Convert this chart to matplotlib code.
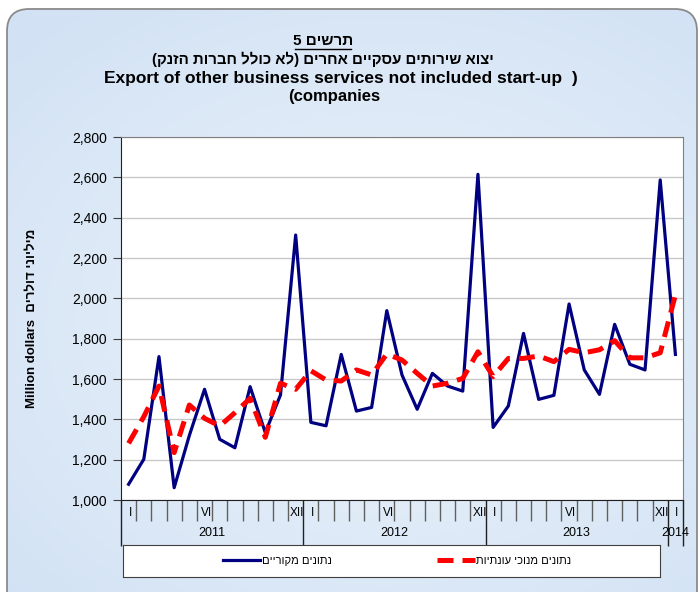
import numpy as np
import matplotlib
matplotlib.use('Agg')
import matplotlib.pyplot as plt
from matplotlib.patches import FancyBboxPatch
from matplotlib.ticker import FuncFormatter, FixedLocator

plt.rcParams['font.family'] = ['Liberation Sans', 'DejaVu Sans']

# monthly values, Jan 2011 - Jan 2014 (million dollars)
original = [1078, 1202, 1711, 1061, 1320, 1549, 1301, 1259, 1562, 1334, 1521, 2314,
            1385, 1368, 1722, 1441, 1459, 1939, 1620, 1450, 1628, 1565, 1540, 2615,
            1360, 1466, 1826, 1499, 1519, 1972, 1645, 1524, 1871, 1673, 1645, 2587,
            1722]
seasonal = [1281, 1413, 1565, 1235, 1471, 1405, 1367, 1433, 1504, 1311, 1579, 1549,
            1641, 1595, 1590, 1645, 1620, 1724, 1694, 1628, 1565, 1579, 1603, 1735,
            1612, 1702, 1702, 1714, 1686, 1747, 1730, 1745, 1790, 1705, 1705, 1730,
            2017]
month_labels = {0: 'I', 5: 'VI', 11: 'XII', 12: 'I', 17: 'VI', 23: 'XII',
                24: 'I', 29: 'VI', 35: 'XII', 36: 'I'}
years = ['2011', '2012', '2013', '2014']
year_starts = [0, 12, 24, 36]

# hebrew strings written in visual (left to right) order
title1 = '5 םישרת'
title2 = '(קנזה תורבח ללוכ אל) םירחא םייקסע םיתוריש אוצי'
title3 = 'Export of other business services not included start-up  )'
title4 = '(companies'
ylabel = 'Million dollars  םירלוד ינוילימ'
lab_orig = 'םיירוקמ םינותנ'
lab_seas = 'תויתנוע יכונמ םינותנ'

W, H = 699, 592
fig = plt.figure(figsize=(W / 100, H / 100), dpi=100)
fig.patch.set_facecolor('white')

# background frame with soft blue gradient
bg = fig.add_axes([0, 0, 1, 1], zorder=-5)
bg.set_xlim(0, W)
bg.set_ylim(0, H)
bg.axis('off')
frame = FancyBboxPatch((7, -40), 690, H - 9 + 40,
                       boxstyle='round,pad=0,rounding_size=22',
                       facecolor='none', edgecolor='#8a8a8a', lw=1.3)
bg.add_patch(frame)
gx, gy = np.meshgrid(np.linspace(0, 1, 200), np.linspace(0, 1, 200))
r = np.sqrt((gx - 0.55) ** 2 + ((gy - 0.55) * 1.1) ** 2)
t = np.clip(r / 0.75, 0, 1)
c1 = np.array([236, 243, 251]) / 255
c2 = np.array([210, 226, 244]) / 255
img = c1[None, None, :] * (1 - t[..., None]) + c2[None, None, :] * t[..., None]
im = bg.imshow(img, extent=(0, W, 0, H), origin='upper', aspect='auto')
im.set_clip_path(frame)

# titles
fig.text(323 / W, 1 - 41 / H, title1, ha='center', va='center', fontsize=11,
         fontweight='bold')
fig.add_artist(plt.Line2D([295 / W, 351 / W], [1 - 49 / H, 1 - 49 / H],
                          color='black', lw=1))
fig.text(323 / W, 1 - 59 / H, title2, ha='center', va='center', fontsize=10.8,
         fontweight='bold')
fig.text(341 / W, 1 - 78 / H, title3, ha='center', va='center', fontsize=12.5,
         fontweight='bold')
fig.text(334 / W, 1 - 97 / H, title4, ha='center', va='center', fontsize=12,
         fontweight='bold')

# main plot
ax = fig.add_axes([121 / W, 1 - 500 / H, 562 / W, 363 / H])
ax.set_facecolor('white')
x = np.arange(len(original))
line1, = ax.plot(x, original, color='#000080', lw=2.3, label=lab_orig, zorder=3)
line2, = ax.plot(x, seasonal, color='#ff0000', lw=3.6, ls=(0, (3.2, 1.8)),
                 label=lab_seas, zorder=4)

ax.set_xlim(-0.5, len(original) - 0.5)
ax.set_ylim(1000, 2800)
ax.set_yticks(np.arange(1000, 2801, 200))
ax.yaxis.set_major_formatter(FuncFormatter(lambda v, p: f'{int(v):,}'))
ax.tick_params(axis='y', labelsize=10, length=6, pad=4, direction='out',
               color='#404040')
ax.grid(axis='y', color='#c8c8c8', lw=1)
ax.set_axisbelow(True)

# x axis: short ticks between months, long ticks between years
ax.xaxis.set_major_locator(FixedLocator([s - 0.5 for s in year_starts] + [36.5]))
ax.xaxis.set_minor_locator(FixedLocator(np.arange(-0.5, 37, 1)))
ax.tick_params(axis='x', which='major', length=33, color='#202020', width=1,
               labelbottom=False)
ax.tick_params(axis='x', which='minor', length=15, color='#606060', width=1)

for i, lab in month_labels.items():
    ax.text(i + 0.1, -0.036, lab, transform=ax.get_xaxis_transform(),
            ha='center', va='center', fontsize=8.5)
year_centers = [5.5, 17.5, 29.5, 36]
for xc, yr in zip(year_centers, years):
    ax.text(xc, -0.091, yr, transform=ax.get_xaxis_transform(),
            ha='center', va='center', fontsize=9)

for s in ['left', 'bottom']:
    ax.spines[s].set_color('#202020')
for s in ['top', 'right']:
    ax.spines[s].set_color('#808080')

fig.text(32 / W, 1 - 318 / H, ylabel, rotation=90, ha='center', va='center',
         fontsize=9.5, fontweight='bold')

# legend box
lax = fig.add_axes([123 / W, 1 - 577 / H, 537 / W, 32 / H])
lax.set_xticks([])
lax.set_yticks([])
lax.set_facecolor('white')
for s in lax.spines.values():
    s.set_color('#404040')
lax.legend([line1, line2], [lab_orig, lab_seas], loc='center', ncol=2,
           frameon=False, fontsize=8, handlelength=3.4, handletextpad=0.1,
           columnspacing=9.5, bbox_to_anchor=(0.51, 0.5))

fig.savefig('out.png', dpi=100)
